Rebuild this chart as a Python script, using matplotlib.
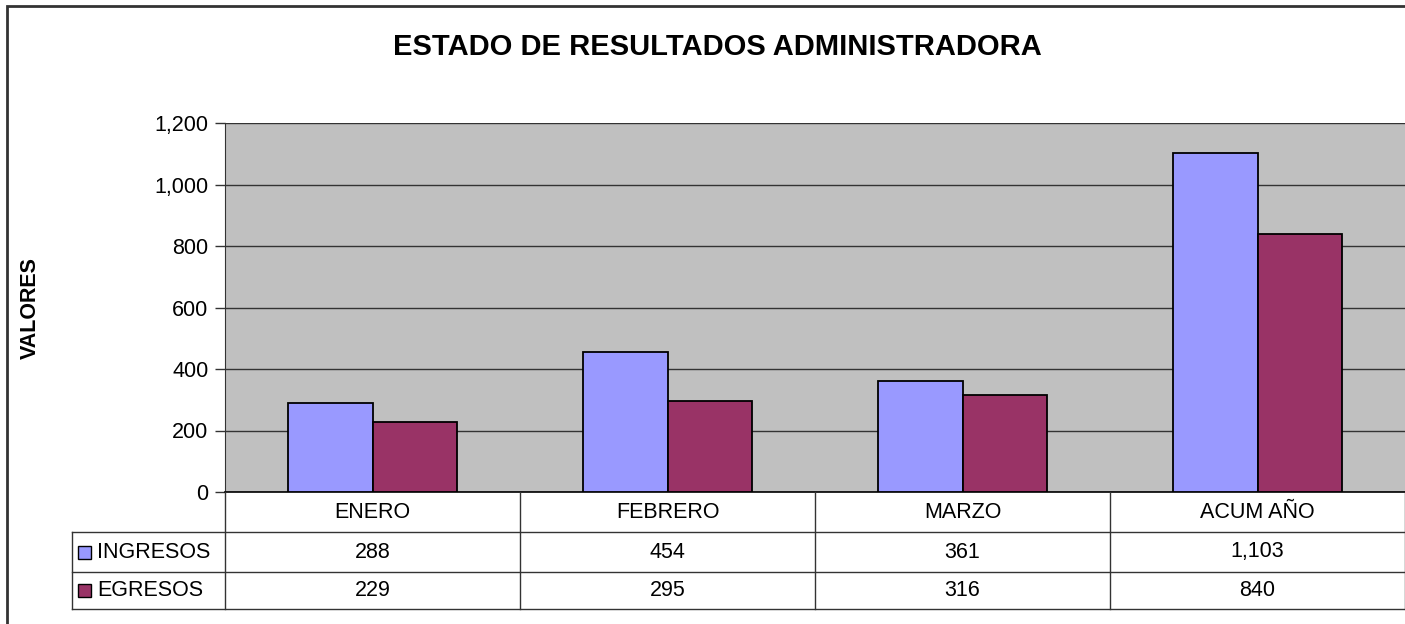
import matplotlib
matplotlib.use("Agg")
import matplotlib.pyplot as plt
import matplotlib.transforms as mtransforms
from matplotlib.patches import Rectangle
from matplotlib.lines import Line2D
import numpy as np

plt.rcParams['font.family'] = ['Liberation Sans', 'DejaVu Sans']

# data
categories = ['ENERO', 'FEBRERO', 'MARZO', 'ACUM AÑO']
series_names = ['INGRESOS', 'EGRESOS']
ingresos = [288, 454, 361, 1103]
egresos = [229, 295, 316, 840]
colors = ['#9999FF', '#993366']
y_ticks = [0, 200, 400, 600, 800, 1000, 1200]

W, H = 1405, 624
fig = plt.figure(figsize=(W / 100, H / 100), dpi=100)
FS = 15.5

def fx(px):
    return px / W

def fy(py):
    return 1 - py / H

# outer chart border (runs off the right and bottom edges)
fig.patches.append(Rectangle((fx(7), fy(640)), fx(1420), fy(6) - fy(640),
                             transform=fig.transFigure, fill=False,
                             edgecolor='#333333', linewidth=2))

ax = fig.add_axes([fx(225), fy(492), 1 - fx(225), fy(123) - fy(492)])
ax.set_facecolor('#C0C0C0')

x = np.arange(len(categories))
bw = 0.288
ax.bar(x - bw / 2, ingresos, bw, color=colors[0], edgecolor='black', linewidth=1.3, zorder=3)
ax.bar(x + bw / 2, egresos, bw, color=colors[1], edgecolor='black', linewidth=1.3, zorder=3)

ax.set_xlim(-0.5, len(categories) - 0.5)
ax.set_ylim(0, 1200)
ax.set_yticks(y_ticks)
ax.set_yticklabels([f'{v:,}' for v in y_ticks], fontsize=FS)
ax.tick_params(axis='y', length=7, width=1, color='#333333', pad=5)
ax.set_xticks([])
ax.yaxis.grid(True, color='#333333', linewidth=1, zorder=0)
ax.set_axisbelow(True)
for s in ['top', 'right']:
    ax.spines[s].set_visible(False)
ax.spines['left'].set_color('#333333')
ax.spines['bottom'].set_color('black')
ax.spines['bottom'].set_linewidth(1.2)

fig.text(fx(30), fy(308), 'VALORES', rotation=90, ha='center', va='center',
         fontsize=FS, fontweight='bold')

fig.text(fx(717), fy(47), 'ESTADO DE RESULTADOS ADMINISTRADORA', ha='center',
         va='center', fontsize=21, fontweight='bold')

# data table below the plot
tr = mtransforms.blended_transform_factory(ax.transData, fig.transFigure)
row_edges = [492, 532, 572, 609]
line_kw = dict(color='#333333', linewidth=1)

# vertical lines at category boundaries
for b in np.arange(len(categories) + 1) - 0.5:
    fig.add_artist(Line2D([b, b], [fy(492), fy(609)], transform=tr, **line_kw))
# horizontal row lines
for ry in row_edges[1:]:
    fig.add_artist(Line2D([fx(72), 1.0], [fy(ry), fy(ry)], transform=fig.transFigure, **line_kw))
fig.add_artist(Line2D([fx(72), fx(72)], [fy(532), fy(609)], transform=fig.transFigure, **line_kw))

# header labels
for xi, c in zip(x, categories):
    fig.text(xi, fy(512), c, transform=tr, ha='center', va='center', fontsize=FS)

for r, (name, vals, col) in enumerate(zip(series_names, [ingresos, egresos], colors)):
    yc = fy((row_edges[r + 1] + row_edges[r + 2]) / 2)
    fig.patches.append(Rectangle((fx(78), yc - 6.5 / H), 13 / W, 13 / H,
                                 transform=fig.transFigure, facecolor=col,
                                 edgecolor='black', linewidth=1))
    fig.text(fx(97), yc, name, ha='left', va='center', fontsize=FS)
    for xi, v in zip(x, vals):
        fig.text(xi, yc, f'{v:,}', transform=tr, ha='center', va='center', fontsize=FS)

fig.savefig('out.png', dpi=100)
